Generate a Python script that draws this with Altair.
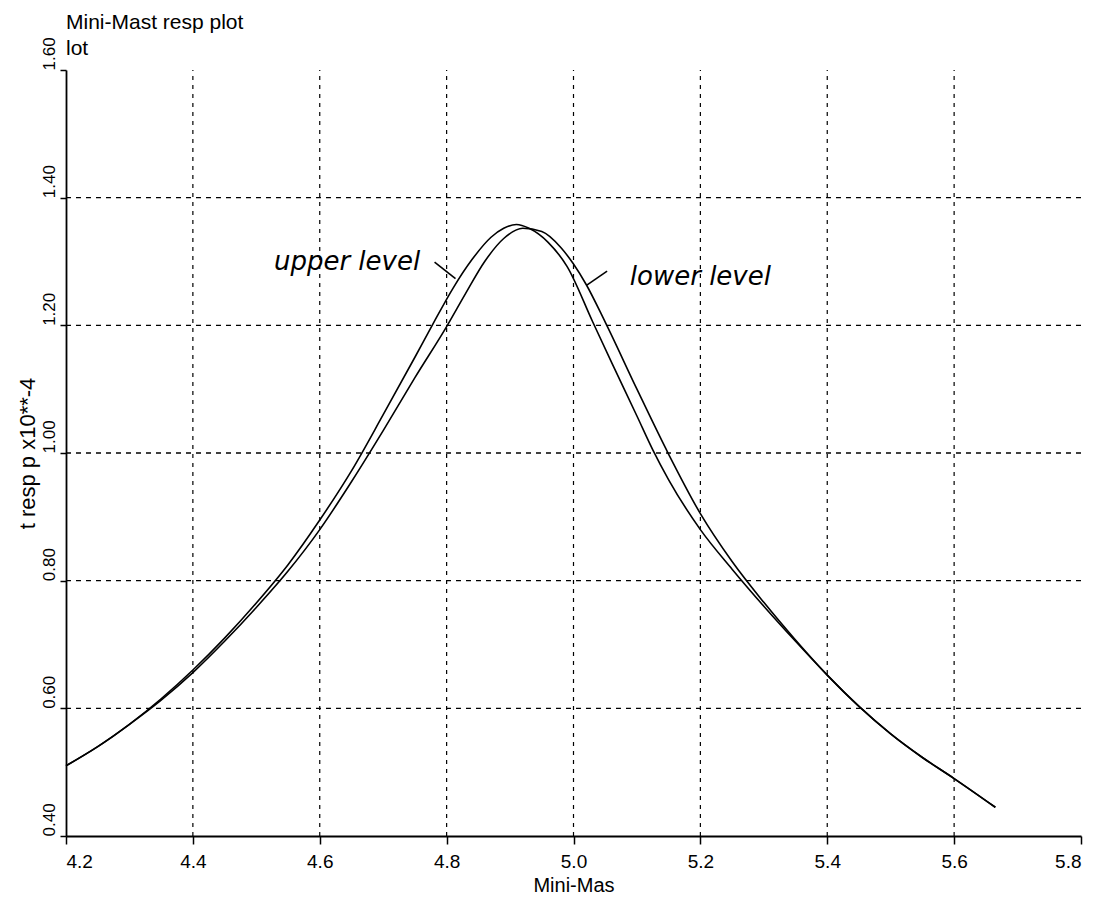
import altair as alt
import pandas as pd

# ---- data ----
upper_x = [4.20, 4.25, 4.30, 4.35, 4.40, 4.45, 4.50, 4.55, 4.60, 4.65, 4.70, 4.75, 4.78, 4.81,
           4.84, 4.87, 4.89, 4.91, 4.93, 4.96, 4.99, 5.03, 5.06, 5.10, 5.125, 5.15, 5.20, 5.25,
           5.30, 5.35, 5.40, 5.45, 5.50, 5.55, 5.60, 5.665]
upper_y = [0.510, 0.540, 0.575, 0.615, 0.660, 0.710, 0.765, 0.825, 0.895, 0.972, 1.060, 1.150,
           1.205, 1.258, 1.303, 1.338, 1.352, 1.358, 1.352, 1.330, 1.292, 1.206, 1.142, 1.058,
           1.005, 0.958, 0.880, 0.818, 0.760, 0.705, 0.652, 0.603, 0.560, 0.523, 0.490, 0.445]

lower_x = [4.20, 4.25, 4.30, 4.35, 4.40, 4.45, 4.50, 4.55, 4.60, 4.65, 4.70, 4.75, 4.80, 4.83,
           4.86, 4.89, 4.92, 4.95, 4.98, 5.00, 5.02, 5.05, 5.10, 5.15, 5.20, 5.25, 5.30, 5.35,
           5.40, 5.45, 5.50, 5.55, 5.60, 5.665]
lower_y = [0.510, 0.540, 0.575, 0.613, 0.656, 0.705, 0.758, 0.815, 0.880, 0.955, 1.035, 1.118,
           1.198, 1.250, 1.300, 1.336, 1.352, 1.347, 1.322, 1.296, 1.264, 1.205, 1.100, 0.998,
           0.905, 0.830, 0.766, 0.707, 0.652, 0.603, 0.560, 0.523, 0.490, 0.445]

x_ticks = [4.2, 4.4, 4.6, 4.8, 5.0, 5.2, 5.4, 5.6, 5.8]
y_ticks = [0.4, 0.6, 0.8, 1.0, 1.2, 1.4, 1.6]
x_grid = [4.4, 4.6, 4.8, 5.0, 5.2, 5.4, 5.6]
y_grid = [0.6, 0.8, 1.0, 1.2, 1.4]
x_range = [4.2, 5.8]
y_range = [0.4, 1.6]

ann_text = ["upper level", "lower level"]
ann_x = [4.643, 5.200]
ann_y = [1.287, 1.263]
lead_x = [4.781, 5.053]
lead_y = [1.299, 1.285]
lead_x2 = [4.814, 5.021]
lead_y2 = [1.273, 1.263]

# ---- tables ----
curves = pd.concat([
    pd.DataFrame({"x": upper_x, "y": upper_y, "series": "upper level"}),
    pd.DataFrame({"x": lower_x, "y": lower_y, "series": "lower level"}),
], ignore_index=True)
xg = pd.DataFrame({"x": x_grid, "y": y_range[0], "y2": y_range[1]})
yg = pd.DataFrame({"y": y_grid, "x": x_range[0], "x2": x_range[1]})
ann = pd.DataFrame({"label": ann_text, "x": ann_x, "y": ann_y})
lead = pd.DataFrame({"x": lead_x, "y": lead_y, "x2": lead_x2, "y2": lead_y2})

FONT = "Liberation Sans"
xscale = alt.Scale(domain=x_range, nice=False, zero=False)
yscale = alt.Scale(domain=y_range, nice=False, zero=False)

x_axis = alt.Axis(values=x_ticks, format=".1f", grid=False, labelFont=FONT, labelFontSize=19,
                  labelColor="black", tickColor="black", tickSize=8, tickWidth=1.5,
                  domainColor="black", domainWidth=1.8, labelPadding=8,
                  title="Mini-Mas", titleFont=FONT, titleFontSize=20, titleFontWeight="normal",
                  titleColor="black", titlePadding=4)
y_axis = alt.Axis(values=y_ticks, format=".2f", grid=False,
                  labelFont=FONT, labelFontSize=17,
                  labelColor="black", labelAngle=270, labelAlign="left", labelBaseline="alphabetic",
                  tickColor="black", tickSize=6, tickWidth=1.5, labelPadding=6,
                  domainColor="black", domainWidth=1.8,
                  title="t resp p x10**-4", titleFont=FONT, titleFontSize=22,
                  titleFontWeight="normal", titleColor="black", titleAngle=270,
                  titleAlign="center", titleBaseline="alphabetic", titleX=-32, titleY=383)

lines = alt.Chart(curves).mark_line(color="black", strokeWidth=1.6, interpolate="monotone").encode(
    x=alt.X("x:Q", scale=xscale, axis=x_axis),
    y=alt.Y("y:Q", scale=yscale, axis=y_axis),
    detail="series:N",
)

vgrid = alt.Chart(xg).mark_rule(color="black", strokeWidth=1.2, strokeDash=[4, 5]).encode(
    x=alt.X("x:Q", scale=xscale),
    y=alt.Y("y:Q", scale=yscale),
    y2="y2:Q",
)
hgrid = alt.Chart(yg).mark_rule(color="black", strokeWidth=1.3, strokeDash=[5, 5]).encode(
    y=alt.Y("y:Q", scale=yscale),
    x=alt.X("x:Q", scale=xscale),
    x2="x2:Q",
)

labels = alt.Chart(ann).mark_text(font="DejaVu Sans", fontStyle="italic", fontSize=26,
                                  color="black", align="center", baseline="alphabetic").encode(
    x=alt.X("x:Q", scale=xscale),
    y=alt.Y("y:Q", scale=yscale),
    text="label:N",
)
leaders = alt.Chart(lead).mark_rule(color="black", strokeWidth=1.6).encode(
    x=alt.X("x:Q", scale=xscale),
    y=alt.Y("y:Q", scale=yscale),
    x2="x2:Q",
    y2="y2:Q",
)

chart = alt.layer(lines, hgrid, vgrid, labels, leaders).properties(
    width=1015,
    height=766,
    background="white",
    autosize=alt.AutoSizeParams(type="none"),
    padding={"left": 58, "top": 62, "right": 17, "bottom": 64},
    title=alt.Title(text=["Mini-Mast resp plot", "lot"], anchor="start", frame="group",
                    font=FONT, fontSize=21, fontWeight="normal", color="black",
                    lineHeight=26, offset=14, dy=36),
).configure_view(stroke=None)

chart.save("out.html", embed_options={"renderer": "svg", "actions": False})
